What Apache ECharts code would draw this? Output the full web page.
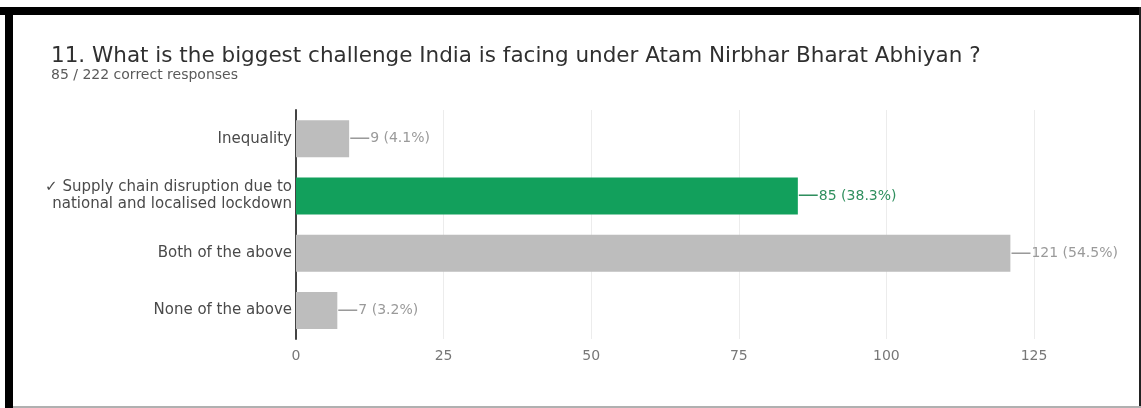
<!DOCTYPE html>
<html>
<head>
<meta charset="utf-8">
<script src="https://cdn.jsdelivr.net/npm/echarts@6/dist/echarts.min.js"></script>
<style>
  html, body { margin: 0; padding: 0; background: #fff; }
  #main { width: 1141px; height: 408px; }
</style>
</head>
<body>
<div id="main"></div>
<script>
const categories = [
  'Inequality',
  '\u2713 Supply chain disruption due to\nnational and localised lockdown',
  'Both of the above',
  'None of the above'
];
const counts = [9, 85, 121, 7];
const percents = ['4.1%', '38.3%', '54.5%', '3.2%'];
const correct = [false, true, false, false];
const xTicks = [0, 25, 50, 75, 100, 125];

const GRAY = '#bdbdbd';
const GREEN = '#12a05c';

const chart = echarts.init(document.getElementById('main'));

let barData = counts.map((v, i) => {
  let c = correct[i] ? '#2f8f5e' : '#9a9a9a';
  return {
    value: v,
    itemStyle: { color: correct[i] ? GREEN : GRAY },
    label: { rich: { d: { color: c, fontSize: 21 }, t: { color: c, fontSize: 14 } } }
  };
});

const option = {
  animation: false,
  backgroundColor: '#fff',
  title: {
    text: '11. What is the biggest challenge India is facing under Atam Nirbhar Bharat Abhiyan ?',
    subtext: '85 / 222 correct responses',
    left: 46,
    top: 40,
    itemGap: 1,
    textStyle: { fontFamily: 'DejaVu Sans', fontSize: 21.5, fontWeight: 'normal', color: '#303030' },
    subtextStyle: { fontFamily: 'DejaVu Sans', fontSize: 14, color: '#5a5a5a' }
  },
  grid: { left: 296, right: 107, top: 110, bottom: 69, containLabel: false },
  xAxis: {
    type: 'value',
    min: xTicks[0],
    max: xTicks[xTicks.length - 1],
    interval: 25,
    axisLine: { show: false },
    axisTick: { show: false },
    splitLine: { lineStyle: { color: '#ececec', width: 1 } },
    axisLabel: { fontFamily: 'DejaVu Sans', fontSize: 14, color: '#777', margin: 10 }
  },
  yAxis: {
    type: 'category',
    inverse: true,
    data: categories,
    axisLine: { show: true, lineStyle: { color: '#444', width: 2 } },
    axisTick: { show: false },
    axisLabel: {
      fontFamily: 'DejaVu Sans', fontSize: 15, color: '#4a4a4a', margin: 4,
      align: 'right', lineHeight: 17
    }
  },
  graphic: [
    { type: 'rect', shape: { x: 0, y: 7, width: 1141, height: 8 }, style: { fill: '#000' } },
    { type: 'rect', shape: { x: 5, y: 7, width: 8, height: 401 }, style: { fill: '#000' } },
    { type: 'rect', shape: { x: 1139, y: 7, width: 2, height: 401 }, style: { fill: '#222' } },
    { type: 'rect', shape: { x: 13, y: 406, width: 1128, height: 2 }, style: { fill: '#b0b0b0' } }
  ],
  series: [{
    type: 'bar',
    data: barData,
    barWidth: 37,
    label: {
      show: true,
      position: 'right',
      distance: 0,
      fontFamily: 'DejaVu Sans',
      formatter: p => '{d|\u2014}{t|' + p.value + ' (' + percents[p.dataIndex] + ')}'
    }
  }]
};

chart.setOption(option);
</script>
</body>
</html>
